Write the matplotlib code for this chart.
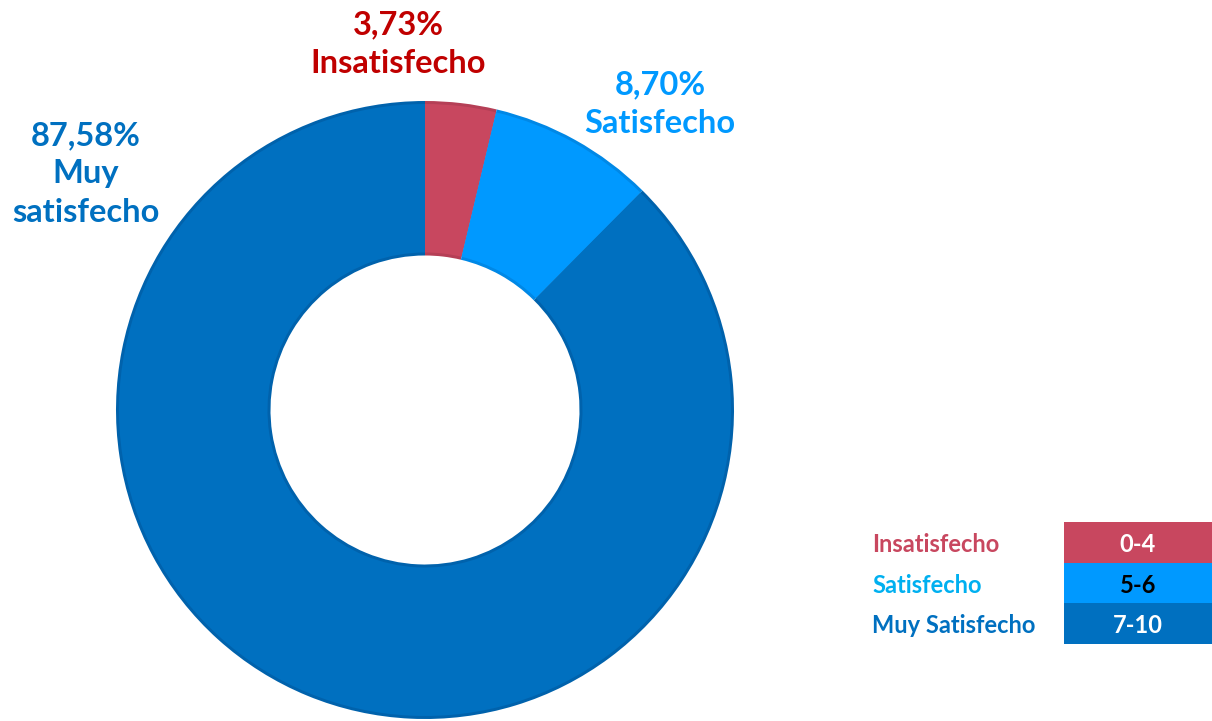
import matplotlib.pyplot as plt
from matplotlib.patches import Rectangle

plt.rcParams['font.family'] = ['Lato', 'DejaVu Sans']

# data
categories = ['Insatisfecho', 'Satisfecho', 'Muy satisfecho']
shares = [3.73, 8.70, 87.58]
share_labels = ['3,73%', '8,70%', '87,58%']
slice_colors = ['#C8475F', '#0099FF', '#0070C0']
label_colors = ['#C00000', '#0099FF', '#0070C0']

legend_names = ['Insatisfecho', 'Satisfecho', 'Muy Satisfecho']
legend_ranges = ['0-4', '5-6', '7-10']
legend_text_colors = ['#C8475F', '#00B0F0', '#0070C0']
legend_value_colors = ['white', 'black', 'white']

W, H = 1212, 721
fig = plt.figure(figsize=(W / 100, H / 100), dpi=100)
ax = fig.add_axes([0, 0, 1, 1])

cx, cy, r = 425, H - 410, 309

# darker rim underneath, then the main ring a bit inset
rim = ['#B53F56', '#0088E6', '#0062AC']
ax.pie(shares, colors=rim, startangle=90, counterclock=False, center=(cx, cy),
       radius=r, wedgeprops=dict(width=r * 0.5, linewidth=0), frame=True)
ax.pie(shares, colors=slice_colors, startangle=90, counterclock=False,
       center=(cx, cy), radius=r - 3,
       wedgeprops=dict(width=r * 0.5 - 6, linewidth=0), frame=True)
ax.set_xlim(0, W)
ax.set_ylim(0, H)
ax.set_aspect('equal')
ax.axis('off')

# slice labels
label_pos = [(398, H - 44), (660, H - 104), (86, H - 174)]
label_text = [share_labels[0] + '\n' + categories[0],
              share_labels[1] + '\n' + categories[1],
              share_labels[2] + '\nMuy\nsatisfecho']
for (x, y), txt, col in zip(label_pos, label_text, label_colors):
    ax.text(x, y, txt, ha='center', va='center', fontsize=23.5,
            fontweight='bold', color=col, linespacing=1.38)

# legend table
top = H - 522
row_h = 40.7
for i, (name, rng) in enumerate(zip(legend_names, legend_ranges)):
    y0 = top - (i + 1) * row_h
    ax.add_patch(Rectangle((1064, y0), 148, row_h, facecolor=slice_colors[i],
                           edgecolor='none'))
    ax.text(1138, y0 + row_h / 2 - 2, rng, ha='center', va='center',
            fontsize=17, fontweight='bold', color=legend_value_colors[i])
    ax.text(872, y0 + row_h / 2 - 2, name, ha='left', va='center',
            fontsize=17, fontweight='bold', color=legend_text_colors[i])

fig.savefig('out.png', dpi=100)
